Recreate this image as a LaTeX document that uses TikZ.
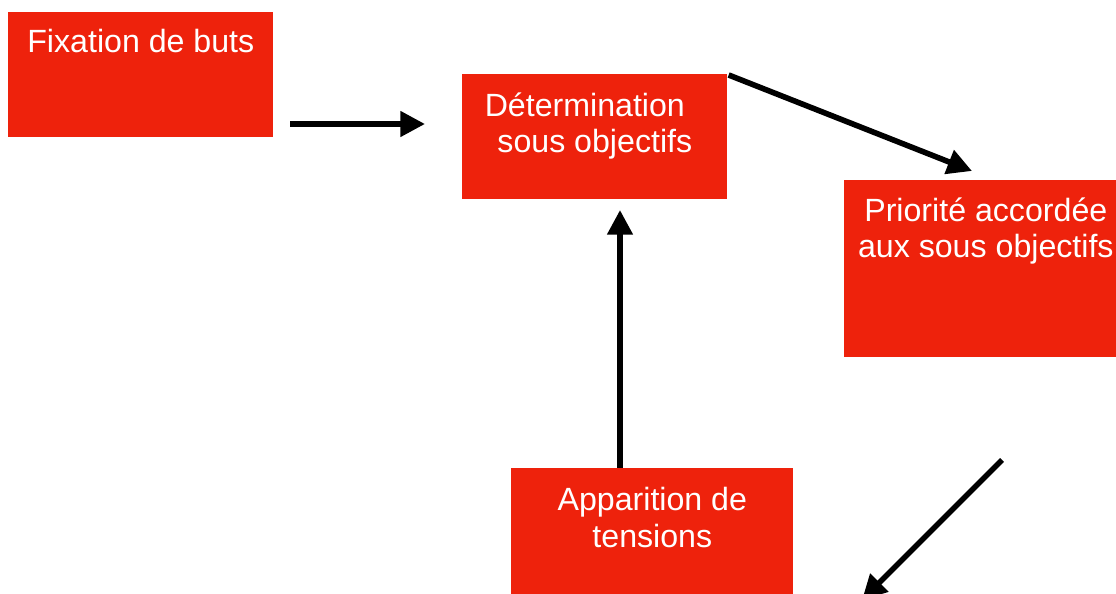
\documentclass[tikz,border=0pt]{standalone}
\usepackage{fontspec}
\setmainfont{Liberation Sans}
\usetikzlibrary{arrows.meta,calc}
\definecolor{boxred}{HTML}{EE220C}
\tikzset{
  goalbox/.style={fill=boxred, draw=none, inner sep=0pt, anchor=north west},
  goaltext/.style={text=white, align=center, anchor=base, inner sep=0pt,
    font=\fontsize{18.3}{21}\selectfont},
  flow/.style={line width=3.2pt, -{Triangle[length=14pt,width=14pt]}}
}
\begin{document}
\begin{tikzpicture}[x=0.02cm, y=-0.02cm]
    \useasboundingbox (0,0) rectangle (1116,594);
    \clip (0,0) rectangle (1116,594);
\node[goalbox, minimum width=5.3cm, minimum height=2.5cm] (fix) at (8,12) {}; % Fixation
\node[goalbox, minimum width=5.3cm, minimum height=2.5cm] (det) at (462,74) {}; % Determination
\node[goalbox, minimum width=5.5cm, minimum height=3.54cm] (prio) at (844,180) {}; % Priorite
\node[goalbox, minimum width=5.64cm, minimum height=2.6cm] (app) at (511,468) {}; % Apparition
\node[goaltext] (fixT) at ($(fix.north)+(0,41)$) {Fixation de buts};
\node[goaltext] (detT) at ($(det.north)+(0,79)$) {Détermination\kern0.4cm\\sous objectifs};
\node[goaltext] (prioT) at ($(prio.north)+(4,78)$) {Priorité accordée\\aux sous objectifs};
\node[goaltext] (appT) at ($(app.north)+(0,79)$) {Apparition de\\tensions};
\coordinate (a1s) at (290,124); % fix -> det
\coordinate (a1e) at (425,124);
\coordinate (a2s) at ($(det.north east)+(1,1)$); % det -> prio
\coordinate (a2e) at (972,171);
\coordinate (a3s) at (1002,460); % prio -> next
\coordinate (a3e) at (862,600);
\coordinate (a4s) at ($(app.north west)+(109,0)$); % app -> det
\coordinate (a4e) at (620,210);
\draw[flow] (a1s) -- (a1e);
\draw[flow] (a2s) -- (a2e);
\draw[flow] (a3s) -- (a3e);
\draw[flow] (a4s) -- (a4e);
\end{tikzpicture}
\end{document}
